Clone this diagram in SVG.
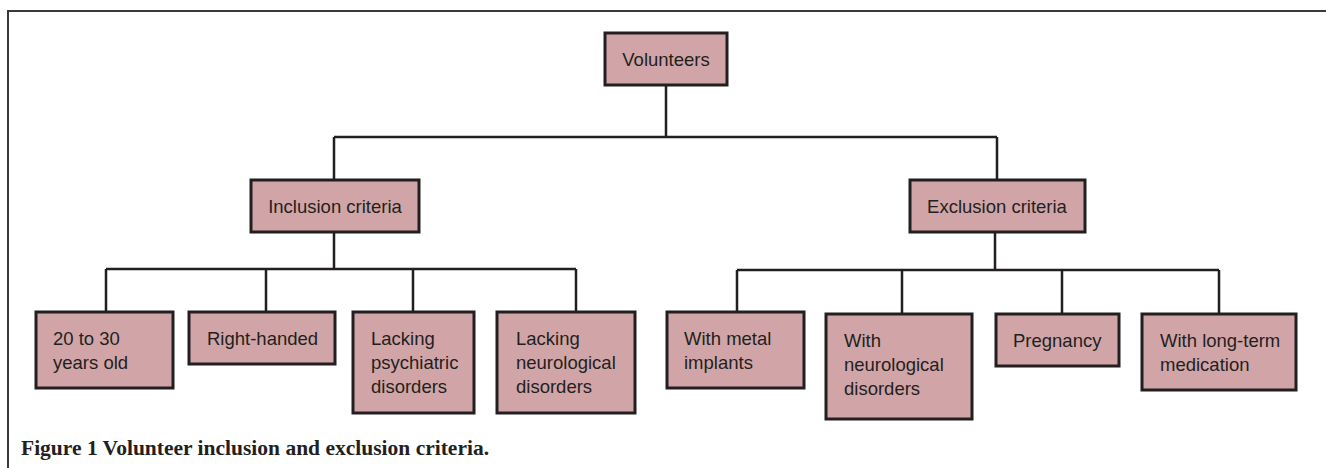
<svg xmlns="http://www.w3.org/2000/svg" width="1326" height="468" viewBox="0 0 1326 468">
<style>
.box{fill:#d1a5a7;stroke:#231f20;stroke-width:3}
.t{font-family:"Liberation Sans",Arial,sans-serif;font-size:18.5px;fill:#231f20}
.c{text-anchor:middle}
.ln{fill:none;stroke:#231f20;stroke-width:2.5}
.cap{font-family:"Liberation Serif","Times New Roman",serif;font-size:21.5px;font-weight:bold;fill:#231f20}
</style>
<rect width="1326" height="468" fill="#ffffff"/>
<rect x="8" y="11" width="1400" height="500" fill="none" stroke="#3a3a3a" stroke-width="2"/>
<g id="connectors">
<path class="ln" d="M666 85V137M334 137H997M334 137V180M997 137V180"/>
<path class="ln" d="M334 232V269M106 269H576M106 269V312M266 269V312M413 269V312M576 269V312"/>
<path class="ln" d="M995 232V270M737 270H1219M737 270V312M902 270V314M1062 270V314M1219 270V314"/>
</g>
<g id="volunteers"><rect class="box" x="605" y="33" width="122" height="52"/><text class="t c" x="666" y="66">Volunteers</text></g>
<g id="inclusion"><rect class="box" x="251" y="180" width="168" height="52"/><text class="t c" x="335" y="213">Inclusion criteria</text></g>
<g id="exclusion"><rect class="box" x="910" y="180" width="175" height="52"/><text class="t c" x="997" y="213">Exclusion criteria</text></g>
<g id="age"><rect class="box" x="36" y="312" width="137" height="76"/><text class="t" x="53" y="345">20 to 30</text><text class="t" x="53" y="369">years old</text></g>
<g id="right-handed"><rect class="box" x="189" y="312" width="146" height="52"/><text class="t" x="207" y="345">Right-handed</text></g>
<g id="psychiatric"><rect class="box" x="353" y="312" width="121" height="101"/><text class="t" x="371" y="345">Lacking</text><text class="t" x="371" y="369">psychiatric</text><text class="t" x="371" y="393">disorders</text></g>
<g id="lacking-neuro"><rect class="box" x="497" y="312" width="138" height="101"/><text class="t" x="516" y="345">Lacking</text><text class="t" x="516" y="369">neurological</text><text class="t" x="516" y="393">disorders</text></g>
<g id="metal"><rect class="box" x="667" y="312" width="137" height="76"/><text class="t" x="684" y="345">With metal</text><text class="t" x="684" y="369">implants</text></g>
<g id="with-neuro"><rect class="box" x="826" y="314" width="146" height="105"/><text class="t" x="844" y="347">With</text><text class="t" x="844" y="371">neurological</text><text class="t" x="844" y="395">disorders</text></g>
<g id="pregnancy"><rect class="box" x="996" y="314" width="123" height="52"/><text class="t" x="1013" y="347">Pregnancy</text></g>
<g id="medication"><rect class="box" x="1142" y="314" width="154" height="76"/><text class="t" x="1160" y="347">With long-term</text><text class="t" x="1160" y="371">medication</text></g>
<text class="cap" x="21" y="455">Figure 1 Volunteer inclusion and exclusion criteria.</text>
</svg>
